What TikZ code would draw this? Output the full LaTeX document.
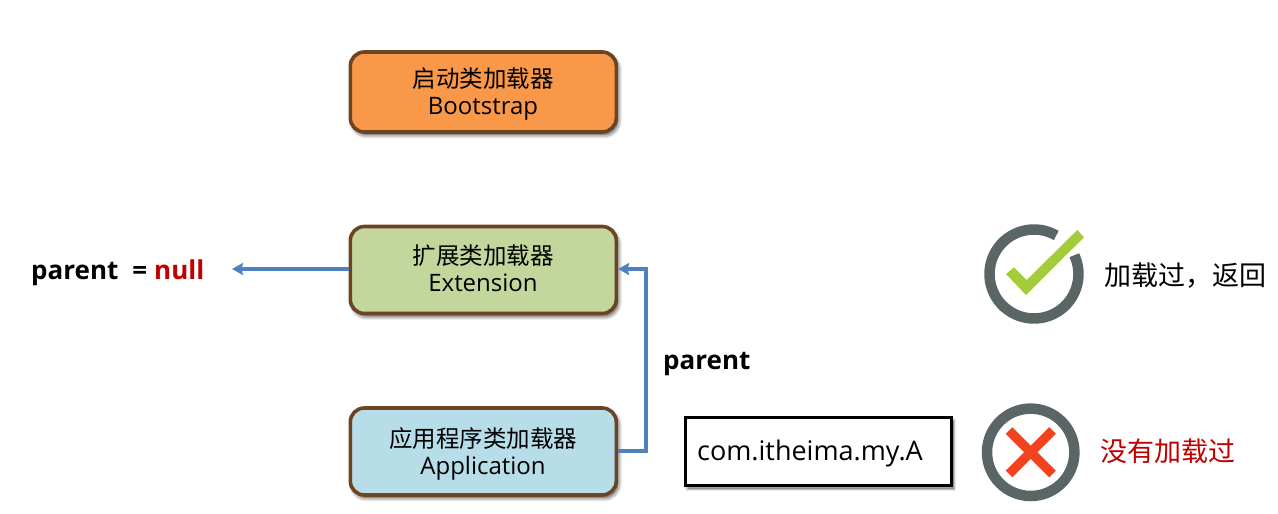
\documentclass[tikz,border=0pt]{standalone}
\usepackage{fontspec}
\setmainfont{Open Sans}
\newfontfamily\cjk{Noto Sans CJK SC}
\usetikzlibrary{shadows,arrows.meta}
\definecolor{brownline}{HTML}{6B4424}
\definecolor{flowblue}{HTML}{4F81BD}
\definecolor{ringgray}{HTML}{5A6566}
\definecolor{darkred}{HTML}{C00000}
\definecolor{bootfill}{RGB}{249,152,72}
\definecolor{extfill}{RGB}{195,214,155}
\definecolor{appfill}{RGB}{183,221,232}
\definecolor{tickgreen}{RGB}{162,204,58}
\definecolor{crossred}{RGB}{243,66,31}
\newcommand{\cjktwo}[1]{{\cjk\fontsize{23.5}{27}\selectfont #1}}
\tikzset{
  x=1pt,y=-1pt,
  softshadow/.style={
    general shadow={shadow xshift=2pt,shadow yshift=-3pt,draw=black,fill=black,opacity=.07,line width=#1+3.5pt},
    general shadow={shadow xshift=2pt,shadow yshift=-3pt,draw=black,fill=black,opacity=.09,line width=#1+1.5pt},
    general shadow={shadow xshift=2pt,shadow yshift=-3pt,draw=black,fill=black,opacity=.11,line width=#1}},
  loader/.style={draw=brownline,line width=3.6pt,rounded corners=14pt,minimum width=266pt,minimum height=80pt,inner sep=0pt,softshadow=3.4pt},
  loadertext/.style={align=center,inner sep=0pt,font=\fontsize{24}{27}\selectfont},
  flow/.style={draw=flowblue,line width=3.4pt,-{Stealth[length=11pt,width=12pt,inset=1.5pt]}},
  ringline/.style={draw=ringgray,line width=10.5pt},
  plainlabel/.style={inner sep=0pt,anchor=west},
  boldlabel/.style={plainlabel,font=\bfseries\fontsize{26}{30}\selectfont},
}
\begin{document}
\begin{tikzpicture}
\useasboundingbox (0,0) rectangle (1278,514);
\node[loader,fill=bootfill] (boot) at (483.3,92) {};
\node[loadertext] (boottext) at (483,94) {\cjktwo{启动类加载器}\\Bootstrap};
\node[loader,minimum height=87pt,fill=extfill] (ext) at (483.3,270) {};
\node[loadertext] (exttext) at (483,268.7) {\cjktwo{扩展类加载器}\\Extension};
\node[loader,minimum height=87pt,fill=appfill] (app) at (483.3,451.5) {};
\node[loadertext] (apptext) at (483,454) {\cjktwo{应用程序类加载器}\\Application};
\node[boldlabel] (pnull) at (31,273) {parent\hspace{14pt}=\hspace{7pt}\textcolor{darkred}{null}};
\coordinate (nullend) at (232,269);
\draw[flow] (ext.west |- nullend) -- (nullend);
\coordinate (elbowbot) at (646,451);
\coordinate (elbowtop) at (646,269);
\draw[flow,line join=miter] (app.east |- elbowbot) -- (elbowbot) -- (elbowtop) -- (ext.east |- elbowtop);
\node[boldlabel] (plabel) at (663,364) {parent};
\node[draw=black,line width=2.2pt,fill=white,minimum width=266pt,minimum height=68pt,inner sep=0pt,softshadow=2pt] (cls) at (818.5,451.5) {};
\node[plainlabel,font=\fontsize{27}{32}\selectfont] (clstext) at (697,453) {com.itheima.my.A};
% tick icon
\coordinate (okc) at (1034,274);
\draw[ringline] (okc) ++(60:44.5pt) arc[start angle=60,end angle=385,radius=44.5pt];
\fill[tickgreen] (1006,274) -- (1014,267.3) -- (1026.7,280) -- (1077.3,230) -- (1084,237.3) -- (1026,295) -- cycle;
\node[plainlabel,font=\fontsize{27}{30}\selectfont\cjk] (oktext) at (1104,276) {加载过，返回};
% cross icon
\coordinate (noc) at (1030.7,452.3);
\draw[ringline] (noc) circle[radius=43.7pt];
\draw[crossred,line width=9.5pt] (1009,430.5) -- (1052.5,474) (1052.5,430.5) -- (1009,474);
\node[plainlabel,font=\fontsize{27}{31}\selectfont\cjk,text=darkred] (notext) at (1100,451) {没有加载过};
\end{tikzpicture}
\end{document}
